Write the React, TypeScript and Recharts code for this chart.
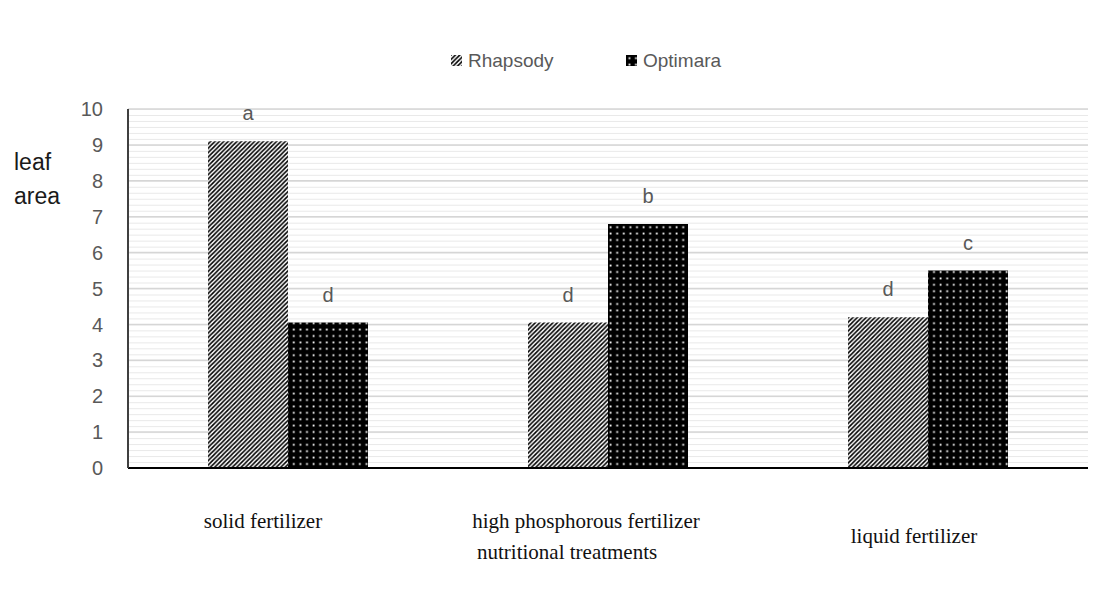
import { BarChart, Bar, XAxis, YAxis, CartesianGrid, Legend, LabelList, Label } from 'recharts'

// leaf area by nutritional treatment, two cultivars
const treatments = ['solid fertilizer', 'high phosphorous fertilizer', 'liquid fertilizer']
const rhapsody = [9.1, 4.05, 4.2]
const optimara = [4.05, 6.8, 5.5]
const rhapsodyLetters = ['a', 'd', 'd']
const optimaraLetters = ['d', 'b', 'c']
const yTicks = [0, 1, 2, 3, 4, 5, 6, 7, 8, 9, 10]

const data = treatments.map((name, i) => ({
  name,
  Rhapsody: rhapsody[i],
  Optimara: optimara[i],
  rLetter: rhapsodyLetters[i],
  oLetter: optimaraLetters[i],
}))

const SANS = "'Liberation Sans', Arial, sans-serif"
const SERIF = "'Liberation Serif', 'Times New Roman', serif"
const GREY = '#595959'

const PLOT_TOP = 109

// per-category nudges for the treatment names under the axis
const tickNudge = [
  { dx: -25, dy: 60 },
  { dx: -22, dy: 60 },
  { dx: -14, dy: 75 },
]

function TreatmentTick(props: any) {
  const { x, y, payload, index } = props
  const n = tickNudge[index] || { dx: 0, dy: 60 }
  return (
    <text x={x + n.dx} y={y + n.dy} textAnchor="middle" fontFamily={SERIF} fontSize={21} fill="#111">
      {payload.value}
    </text>
  )
}

function YTitle() {
  return (
    <text x={14} fontFamily={SANS} fontSize={23} fill="#1a1a1a">
      <tspan x={14} y={170}>leaf</tspan>
      <tspan x={14} y={204}>area</tspan>
    </text>
  )
}

function XTitle(props: any) {
  const { viewBox } = props
  return (
    <text x={viewBox.x + 349} y={viewBox.y + 91} fontFamily={SERIF} fontSize={21} fill="#111">
      nutritional treatments
    </text>
  )
}

function LegendContent() {
  const item = (label: string, fill: string, left: number) => (
    <div style={{ position: 'absolute', left, top: 0, display: 'flex', alignItems: 'center' }}>
      <svg width={12} height={12} style={{ marginRight: 5 }}>
        <rect x={0} y={0} width={11} height={11} fill={fill} />
      </svg>
      <span style={{ fontFamily: SANS, fontSize: 19, color: GREY }}>{label}</span>
    </div>
  )
  return (
    <div style={{ position: 'relative', height: 24 }}>
      {item('Rhapsody', 'url(#stripes)', 451)}
      {item('Optimara', 'url(#dots)', 626)}
    </div>
  )
}

export default function App() {
  return (
    <div style={{ position: 'absolute', left: 0, top: 0, width: 1105, height: 609, background: '#fff' }}>
      <BarChart
        width={1105}
        height={609}
        data={data}
        margin={{ top: PLOT_TOP, right: 17, left: 0, bottom: 0 }}
        barCategoryGap="25%"
        barGap={0}
      >
        <defs>
          <pattern id="stripes" patternUnits="userSpaceOnUse" width={4.4} height={4.4}>
            <rect width={4.4} height={4.4} fill="#fff" />
            <path d="M-1.1,1.1 l2.2,-2.2 M0,4.4 l4.4,-4.4 M3.3,5.5 l2.2,-2.2" stroke="#000" strokeWidth={1.6} />
          </pattern>
          <pattern id="dots" patternUnits="userSpaceOnUse" width={6.6} height={6.4}>
            <rect width={6.6} height={6.4} fill="#000" />
            <rect x={2.5} y={2.3} width={1.8} height={1.8} fill="#fff" />
          </pattern>
          <pattern id="minorLines" patternUnits="userSpaceOnUse" x={0} y={PLOT_TOP} width={8} height={35.9 / 6}>
            <rect width={8} height={6} fill="#fff" />
            <line x1={0} x2={8} y1={0.5} y2={0.5} stroke="#e9e9e9" strokeWidth={1} />
          </pattern>
        </defs>
        <CartesianGrid vertical={false} stroke="#d6d6d6" strokeWidth={1.5} fill="url(#minorLines)" fillOpacity={1} />
        <XAxis
          dataKey="name"
          height={141}
          tickLine={false}
          tickSize={0}
          tickMargin={0}
          axisLine={{ stroke: '#000', strokeWidth: 2 }}
          tick={<TreatmentTick />}
          interval={0}
        >
          <Label content={<XTitle />} />
        </XAxis>
        <YAxis
          width={128}
          domain={[0, 10]}
          ticks={yTicks}
          interval={0}
          tickLine={false}
          tickSize={0}
          tickMargin={25}
          axisLine={{ stroke: '#404040', strokeWidth: 2 }}
          tick={{ fill: GREY, fontSize: 20, fontFamily: SANS }}
        >
          <Label content={<YTitle />} />
        </YAxis>
        <Legend
          verticalAlign="middle"
          content={<LegendContent />}
          wrapperStyle={{ top: 50, left: 0, width: 1105 }}
        />
        <Bar dataKey="Rhapsody" fill="url(#stripes)" isAnimationActive={false}>
          <LabelList dataKey="rLetter" position="top" offset={21} fill={GREY} fontSize={20} fontFamily={SANS} />
        </Bar>
        <Bar dataKey="Optimara" fill="url(#dots)" isAnimationActive={false}>
          <LabelList dataKey="oLetter" position="top" offset={21} fill={GREY} fontSize={20} fontFamily={SANS} />
        </Bar>
      </BarChart>
    </div>
  )
}
